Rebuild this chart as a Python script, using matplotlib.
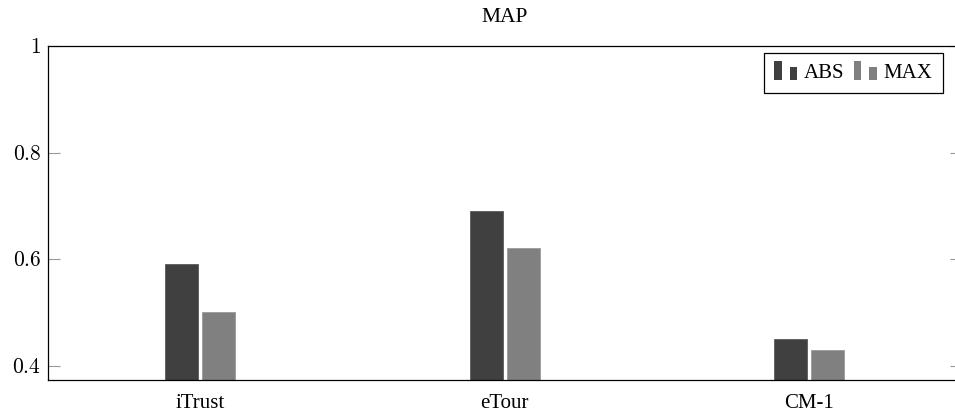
import matplotlib
matplotlib.use('Agg')
import matplotlib.pyplot as plt
from matplotlib.legend_handler import HandlerBase
from matplotlib.patches import Rectangle
import numpy as np

plt.rcParams['font.family'] = ['Liberation Serif', 'DejaVu Serif']
plt.rcParams['mathtext.fontset'] = 'cm'

categories = ['iTrust', 'eTour', 'CM-1']
abs_vals = [0.59, 0.69, 0.45]
max_vals = [0.50, 0.62, 0.43]
series_names = ['ABS', 'MAX']
yticks = [0.4, 0.6, 0.8, 1.0]
ytick_labels = ['$0.4$', '$0.6$', '$0.8$', '$1$']

c_abs = '#404040'
c_max = '#808080'


class TwoBarHandler(HandlerBase):
    # pgfplots style ybar legend image: two little bars
    def create_artists(self, legend, orig_handle, xdescent, ydescent,
                       width, height, fontsize, trans):
        col = orig_handle.get_facecolor()
        w = width * 0.33
        y0 = -ydescent - height * 0.15
        r1 = Rectangle((-xdescent, y0), w, height * 1.35,
                       facecolor=col, edgecolor='none', transform=trans)
        r2 = Rectangle((-xdescent + width * 0.67, y0), w, height * 0.9,
                       facecolor=col, edgecolor='none', transform=trans)
        return [r1, r2]


fig = plt.figure(figsize=(9.55, 4.2), dpi=100)
ax = fig.add_axes([48 / 955, 40 / 420, (961.5 - 48) / 955, (380 - 46) / 420])

x = np.arange(len(categories))
w = 0.108
off = 0.061
b1 = ax.bar(x - off, abs_vals, w, color=c_abs, edgecolor='#5a5a5a', linewidth=0.6, label=series_names[0])
b2 = ax.bar(x + off, max_vals, w, color=c_max, edgecolor='#9a9a9a', linewidth=0.6, label=series_names[1])

ax.set_xlim(-0.5, 2.5)
ax.set_ylim(0.373, 1.0)
ax.set_xticks(x)
ax.set_xticklabels(categories, fontsize=15)
ax.set_yticks(yticks)
ax.set_yticklabels(ytick_labels, fontsize=15.5)
ax.tick_params(axis='x', length=0, pad=10)
ax.tick_params(axis='y', direction='in', length=8.5, width=0.8, color='#999999',
               left=True, right=True, pad=5)
for s in ax.spines.values():
    s.set_linewidth(0.9)
ax.spines['right'].set_visible(False)

ax.set_title('MAP', fontsize=15.5, pad=17)

leg = ax.legend(handles=[b1.patches[0], b2.patches[0]], labels=series_names,
                handler_map={Rectangle: TwoBarHandler()},
                loc='upper right', bbox_to_anchor=(943 / 955, 1 - 53 / 420),
                bbox_transform=fig.transFigure, ncol=2, fontsize=15,
                fancybox=False, edgecolor='black', framealpha=1,
                handlelength=1.1, handletextpad=0.33, columnspacing=0.45,
                borderpad=0.5, borderaxespad=0)
leg.get_frame().set_linewidth(0.9)

fig.savefig('out.png', dpi=100)
